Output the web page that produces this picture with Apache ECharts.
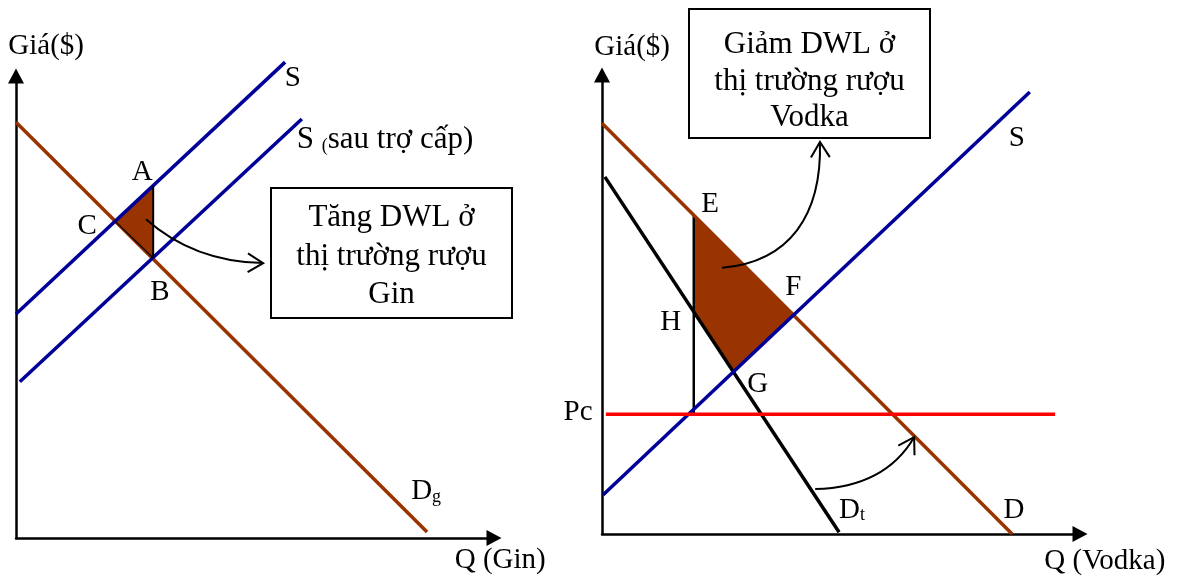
<!DOCTYPE html>
<html><head><meta charset="utf-8">
<script src="https://cdn.jsdelivr.net/npm/echarts@6/dist/echarts.min.js"></script>
<style>html,body{margin:0;padding:0;background:#fff}#c{width:1180px;height:577px}</style>
</head><body><div id="c"></div>
<script>
// ---------- Left panel: Gin market (Q 0..10, P 0..10) ----------
const ginDemand = [[0, 9.00], [8.60, 0.13]];
const ginSupply = [[0, 4.85], [5.63, 10.30]];
const ginSupplySubsidy = [[0.08, 3.38], [5.98, 9.07]];
const ginPoints = { C: [2.07, 6.86], A: [2.87, 7.62], B: [2.87, 6.06] };
const ginDWL = [ginPoints.C, ginPoints.A, ginPoints.B];
const ginArrow = [[2.72, 6.90], [3.33, 6.34], [4.16, 5.97], [5.17, 5.95]];
const ginLabels = [
  ['Giá($)', 0.63, 10.65], ['Q (Gin)', 10.13, -0.48],
  ['A', 2.64, 7.92], ['C', 1.49, 6.75], ['B', 3.01, 5.32],
  ['S', 5.79, 9.94], ['{c|S }{b|(}{c|sau trợ cấp)}', 7.72, 8.61],
  ['{a|D}{b|g}', 8.58, 1.00]
];
const ginBoxText = ['Tăng DWL ở', 'thị trường rượu', 'Gin'];

// ---------- Right panel: Vodka market (Q 0..10, P 0..10) ----------
const vodkaDemand = [[0, 8.95], [8.58, 0]];
const vodkaDemandT = [[0.06, 7.78], [4.96, 0.04]];
const vodkaSupply = [[0.02, 0.85], [8.95, 9.63]];
const vodkaPc = [[0.08, 2.61], [9.48, 2.61]];
const vodkaPoints = { E: [1.92, 6.93], F: [4.00, 4.77], G: [2.74, 3.53], H: [1.92, 4.84] };
const vodkaDWL = [vodkaPoints.E, vodkaPoints.F, vodkaPoints.G, vodkaPoints.H];
const vodkaVertical = [vodkaPoints.E, [1.92, 2.61]];
const vodkaArrowUp = [[2.51, 5.80], [3.93, 5.93], [4.60, 6.95], [4.56, 8.54]];
const vodkaArrowShift = [[4.46, 0.98], [5.19, 1.00], [6.03, 1.22], [6.53, 2.11]];
const vodkaLabels = [
  ['Giá($)', 0.63, 10.61], ['Q (Vodka)', 10.52, -0.59],
  ['E', 2.26, 7.19], ['F', 4.00, 5.38], ['H', 1.44, 4.60], ['G', 3.26, 3.27],
  ['Pc', -0.50, 2.64], ['{a|D}{b|t}', 5.23, 0.52], ['D', 8.62, 0.52], ['S', 8.68, 8.61]
];
const vodkaBoxText = ['Giảm DWL ở', 'thị trường rượu', 'Vodka'];

// ---------- styles ----------
const SERIF = '"Liberation Serif", "Times New Roman", serif';
const BROWN = '#993300', BLUE = '#000099', RED = '#ff0000', BLACK = '#000000';
const FS = 29, FS_BOX = 31;

function axisPair(i) {
  const axisLine = { show: true, onZero: false, symbol: ['none', 'triangle'], symbolSize: [16, 15],
    lineStyle: { color: BLACK, width: 2.5 } };
  const common = { type: 'value', min: 0, max: 10, gridIndex: i, axisLine,
    axisTick: { show: false }, axisLabel: { show: false }, splitLine: { show: false } };
  return [Object.assign({ position: 'bottom' }, common), Object.assign({ position: 'left' }, common)];
}
const ax0 = axisPair(0), ax1 = axisPair(1);

function line(i, data, color, width, z) {
  return { type: 'line', xAxisIndex: i, yAxisIndex: i, data, symbol: 'none', showSymbol: false,
    clip: false, silent: true, animation: false, z: z || 3, lineStyle: { color, width } };
}
function polygon(i, pts, z) {
  return { type: 'custom', coordinateSystem: 'cartesian2d', xAxisIndex: i, yAxisIndex: i, clip: false,
    silent: true, z: z || 1, data: [0],
    renderItem(params, api) {
      return { type: 'polygon', shape: { points: pts.map(p => api.coord(p)) }, style: { fill: BROWN } };
    } };
}
function arrow(i, cps) {
  return { type: 'custom', coordinateSystem: 'cartesian2d', xAxisIndex: i, yAxisIndex: i, clip: false,
    silent: true, z: 5, data: [0],
    renderItem(params, api) {
      const p = cps.map(c => api.coord(c));
      const dx = p[3][0] - p[2][0], dy = p[3][1] - p[2][1];
      const ang = Math.atan2(dy, dx), L = 18, h = 0.55;
      const a1 = [p[3][0] - L * Math.cos(ang - h), p[3][1] - L * Math.sin(ang - h)];
      const a2 = [p[3][0] - L * Math.cos(ang + h), p[3][1] - L * Math.sin(ang + h)];
      return { type: 'group', children: [
        { type: 'bezierCurve', shape: { x1: p[0][0], y1: p[0][1], cpx1: p[1][0], cpy1: p[1][1],
            cpx2: p[2][0], cpy2: p[2][1], x2: p[3][0], y2: p[3][1] },
          style: { stroke: BLACK, lineWidth: 2, fill: null } },
        { type: 'polyline', shape: { points: [a1, p[3], a2] }, style: { stroke: BLACK, lineWidth: 2, fill: null } }
      ] };
    } };
}
function labels(i, list) {
  return { type: 'custom', coordinateSystem: 'cartesian2d', xAxisIndex: i, yAxisIndex: i, clip: false,
    silent: true, z: 6, data: list.map(l => [l[1], l[2]]),
    renderItem(params, api) {
      const l = list[params.dataIndex];
      const pt = api.coord([l[1], l[2]]);
      return { type: 'text', x: pt[0], y: pt[1], style: {
        text: l[0], fill: BLACK, fontSize: FS, fontFamily: SERIF, align: 'center', verticalAlign: 'middle',
        rich: { a: { fontSize: FS, fontFamily: SERIF, fill: BLACK },
                c: { fontSize: FS_BOX, fontFamily: SERIF, fill: BLACK },
                b: { fontSize: 18, fontFamily: SERIF, fill: BLACK, verticalAlign: 'bottom' } } } };
    } };
}
function box(x, y, w, h, lines, lineGap, firstMid) {
  return { type: 'group', children: [
    { type: 'rect', shape: { x, y, width: w, height: h }, style: { fill: '#fff', stroke: BLACK, lineWidth: 2 } }
  ].concat(lines.map((t, k) => ({ type: 'text', x: x + w / 2, y: firstMid + k * lineGap,
    style: { text: t, fill: BLACK, fontSize: FS_BOX, fontFamily: SERIF, align: 'center', verticalAlign: 'middle' } }))) };
}

const option = {
  animation: false,
  backgroundColor: '#ffffff',
  grid: [{ left: 16, top: 76, width: 478, height: 462 }, { left: 602, top: 75, width: 478, height: 459 }],
  xAxis: [ax0[0], ax1[0]],
  yAxis: [ax0[1], ax1[1]],
  graphic: [
    box(271, 188, 241, 130, ginBoxText, 38.5, 218),
    box(689, 9, 241, 129, vodkaBoxText, 36.5, 45)
  ],
  series: [
    // left
    polygon(0, ginDWL),
    line(0, ginDemand, BROWN, 3.5),
    line(0, ginSupply, BLUE, 3.5),
    line(0, ginSupplySubsidy, BLUE, 3.5),
    line(0, [ginPoints.A, ginPoints.B], BLACK, 2, 4),
    line(0, [ginPoints.C, ginPoints.B], BLACK, 1.2, 4),
    arrow(0, ginArrow),
    labels(0, ginLabels),
    // right
    polygon(1, vodkaDWL),
    line(1, vodkaDemand, BROWN, 3.5),
    line(1, vodkaDemandT, BLACK, 3.5),
    line(1, vodkaSupply, BLUE, 3.5),
    line(1, vodkaPc, RED, 3.5),
    line(1, vodkaVertical, BLACK, 2.5, 2),
    arrow(1, vodkaArrowUp),
    arrow(1, vodkaArrowShift),
    labels(1, vodkaLabels)
  ]
};
const chart = echarts.init(document.getElementById('c'));
chart.setOption(option);
</script>
</body></html>
